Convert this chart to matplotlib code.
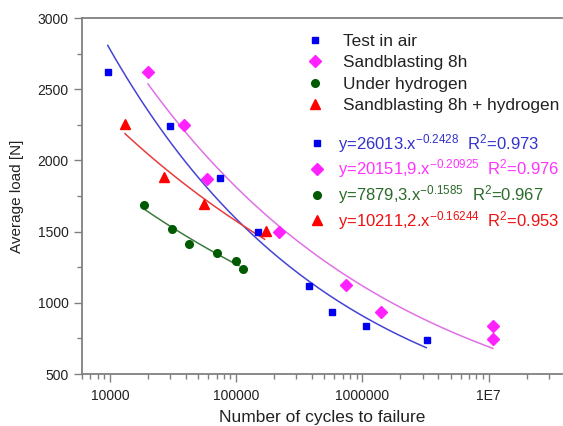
import numpy as np
import matplotlib
matplotlib.use("Agg")
import matplotlib.pyplot as plt
from matplotlib.lines import Line2D
from matplotlib.ticker import LogLocator, FixedLocator, NullFormatter, FixedFormatter

plt.rcParams['font.family'] = ['Liberation Sans', 'DejaVu Sans']
plt.rcParams['mathtext.fontset'] = 'custom'
plt.rcParams['mathtext.rm'] = 'Liberation Sans'
plt.rcParams['mathtext.it'] = 'Liberation Sans'
plt.rcParams['mathtext.default'] = 'regular'

# ---------------- data ----------------
air_x = [9600, 29900, 74600, 148600, 375000, 574000, 1076000, 3220000]
air_y = [2621, 2242, 1876, 1495, 1116, 933, 837, 741]

sand_x = [20140, 38900, 58900, 219500, 746000, 1390000, 10800000, 10800000]
sand_y = [2623, 2249, 1872, 1495, 1123, 933, 837, 748]

hyd_x = [18700, 31200, 42100, 69800, 100000, 114000]
hyd_y = [1689, 1518, 1411, 1350, 1296, 1237]

sandhyd_x = [13150, 26700, 56000, 171000]
sandhyd_y = [2256, 1883, 1696, 1506]

series_names = ["Test in air", "Sandblasting 8h", "Under hydrogen",
                "Sandblasting 8h + hydrogen"]

# power-law fits y = A * x^b, as printed on the chart
fit_A = [26013, 20151.9, 7879.3, 10211.2]
fit_b = [-0.2428, -0.20925, -0.1585, -0.16244]
fit_r2 = ["0.973", "0.976", "0.967", "0.953"]
fit_A_text = ["26013", "20151,9", "7879,3", "10211,2"]
fit_b_text = ["-0.2428", "-0.20925", "-0.1585", "-0.16244"]
fit_x_start = [9600, 20000, 18700, 13150]
fit_x_end = [3200000, 10800000, 105000, 168000]

y_ticks = [500, 1000, 1500, 2000, 2500, 3000]
x_ticks = [1e4, 1e5, 1e6, 1e7]
x_tick_labels = ["10000", "100000", "1000000", "1E7"]

# ---------------- style ----------------
marker_colors = ["#0000ee", "#ff22ff", "#005a00", "#ff0000"]
line_colors = ["#4444d4", "#e070e6", "#3d7a3d", "#e83c3c"]
text_colors = ["#3333cc", "#ff33ff", "#2a6a2a", "#ee1111"]
markers = ["s", "D", "o", "^"]
msizes = [5, 6, 5.5, 7]

fig = plt.figure(figsize=(5.63, 4.26), dpi=100)
ax = fig.add_axes([82/563, 1-374/426, 1-82/563-0.002, (374-18)/426])

xs_all = [air_x, sand_x, hyd_x, sandhyd_x]
ys_all = [air_y, sand_y, hyd_y, sandhyd_y]

for i in range(4):
    xf = np.geomspace(fit_x_start[i], fit_x_end[i], 100)
    ax.plot(xf, fit_A[i] * xf ** fit_b[i], color=line_colors[i], lw=1.1, zorder=2)
for i in range(4):
    ax.plot(xs_all[i], ys_all[i], linestyle='none', marker=markers[i],
            ms=msizes[i], color=marker_colors[i], mec=marker_colors[i], zorder=3)

ax.set_xscale('log')
ax.set_xlim(6000, 3.8e7)
ax.set_ylim(500, 3000)

ax.xaxis.set_major_locator(FixedLocator(x_ticks))
ax.xaxis.set_major_formatter(FixedFormatter(x_tick_labels))
ax.xaxis.set_minor_locator(LogLocator(base=10, subs=np.arange(2, 10)))
ax.xaxis.set_minor_formatter(NullFormatter())
ax.set_yticks(y_ticks)
ax.yaxis.set_minor_locator(FixedLocator(np.arange(750, 3000, 500)))

grey = "#808080"
for s in ['left', 'bottom', 'top']:
    ax.spines[s].set_color(grey)
    ax.spines[s].set_linewidth(1.3)
ax.spines['right'].set_visible(False)
ax.tick_params(which='both', direction='out', color=grey, width=1.0,
               labelsize=10, labelcolor='#222222')
ax.tick_params(which='major', length=6)
ax.tick_params(which='minor', length=3.5)
ax.tick_params(axis='x', pad=5)

ax.set_xlabel("Number of cycles to failure", fontsize=12.5, color='#222222', labelpad=5)
ax.set_ylabel("Average load [N]", fontsize=11, color='#222222', labelpad=10)

handles = [Line2D([], [], linestyle='none', marker=markers[i], ms=msizes[i],
                  color=marker_colors[i]) for i in range(4)]
leg1 = ax.legend(handles, series_names, loc='upper left',
                 bbox_to_anchor=(307/563, 1-34/426), bbox_transform=fig.transFigure,
                 frameon=False, fontsize=12.4, borderpad=0, borderaxespad=0,
                 handlelength=0.93, handletextpad=1.16, labelspacing=0.37)
for t in leg1.get_texts():
    t.set_color('#222222')
ax.add_artist(leg1)

eq_labels = [f"y={fit_A_text[i]}.x$^{{{fit_b_text[i]}}}$  R$^2$={fit_r2[i]}" for i in range(4)]
leg2 = ax.legend(handles, eq_labels, loc='upper left',
                 bbox_to_anchor=(309/563, 1-132/426), bbox_transform=fig.transFigure,
                 frameon=False, fontsize=12.0, borderpad=0, borderaxespad=0,
                 handlelength=0.95, handletextpad=0.78, labelspacing=0.16,
                 labelcolor=text_colors)

fig.savefig("out.png", dpi=100)
